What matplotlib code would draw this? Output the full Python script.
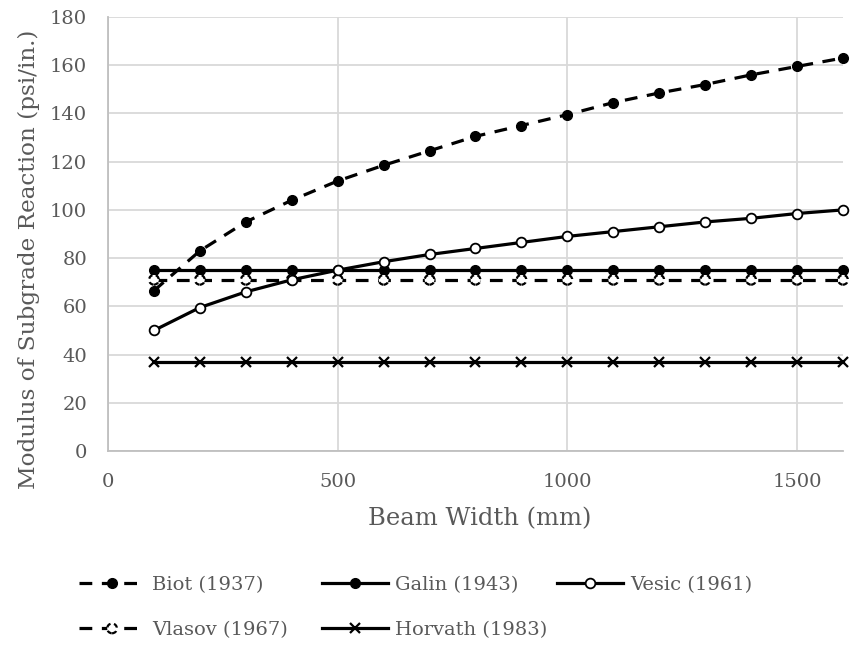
import matplotlib
matplotlib.use("Agg")
import matplotlib.pyplot as plt

widths = [100, 200, 300, 400, 500, 600, 700, 800, 900, 1000, 1100, 1200, 1300, 1400, 1500, 1600]
biot = [66.5, 83, 95, 104, 112, 118.5, 124.5, 130.5, 135, 139.5, 144.5, 148.5, 152, 156, 159.5, 163]
galin = [75] * 16
vesic = [50, 59.5, 66, 71, 75, 78.5, 81.5, 84, 86.5, 89, 91, 93, 95, 96.5, 98.5, 100]
vlasov = [71] * 16
horvath = [37] * 16

labels = ["Biot (1937)", "Galin (1943)", "Vesic (1961)", "Vlasov (1967)", "Horvath (1983)"]
xticks = [0, 500, 1000, 1500]
yticks = [0, 20, 40, 60, 80, 100, 120, 140, 160, 180]

TXT = "#595959"
plt.rcParams['font.family'] = ['DejaVu Serif']

W, H = 852, 646
fig = plt.figure(figsize=(W / 100, H / 100), dpi=100)
ax = fig.add_axes([108 / W, 1 - 451 / H, (843 - 108) / W, (451 - 17) / H])

lw = 2.3
ms = 7
h_biot, = ax.plot(widths, biot, color='black', lw=lw, dashes=(4, 3), marker='o', ms=ms,
                  mfc='black', mec='black', zorder=3, clip_on=False)
h_galin, = ax.plot(widths, galin, color='black', lw=lw, marker='o', ms=ms,
                   mfc='black', mec='black', zorder=3, clip_on=False)
h_vl_line, = ax.plot(widths, vlasov, color='black', lw=lw, dashes=(4, 3), zorder=3, clip_on=False)
h_vl_pts = ax.scatter(widths, vlasov, s=ms ** 2, facecolors='white', edgecolors='black',
                      linewidths=1.6, linestyles=(0, (2.2, 1.6)), zorder=3.5, clip_on=False)
h_vesic, = ax.plot(widths, vesic, color='black', lw=lw, marker='o', ms=ms,
                   mfc='white', mec='black', mew=1.3, zorder=4, clip_on=False)
h_horv, = ax.plot(widths, horvath, color='black', lw=lw, marker='x', ms=7, mew=1.6,
                  mec='black', zorder=3, clip_on=False)

ax.set_xlim(0, 1600)
ax.set_ylim(0, 180)
ax.set_xticks(xticks)
ax.set_yticks(yticks)
ax.grid(True, color='#d9d9d9', lw=1.3)
ax.set_axisbelow(True)
for s in ['top', 'right']:
    ax.spines[s].set_visible(False)
ax.spines['left'].set_color('#bfbfbf')
ax.spines['bottom'].set_color('#bfbfbf')
ax.spines['left'].set_linewidth(1.3)
ax.spines['bottom'].set_linewidth(1.3)
ax.tick_params(length=0, labelsize=14, colors=TXT)
ax.tick_params(axis='y', pad=15)
ax.tick_params(axis='x', pad=16)
ax.set_xlabel("Beam Width (mm)", fontsize=17.5, color=TXT)
ax.set_ylabel("Modulus of Subgrade Reaction (psi/in.)", fontsize=16.7, color=TXT)
ax.yaxis.set_label_coords(40 / W, 1 - 259 / H, transform=fig.transFigure)
ax.xaxis.set_label_coords(480 / W, 1 - 507 / H, transform=fig.transFigure)

common = dict(frameon=False, fontsize=14, labelcolor=TXT, handlelength=3.4,
              handletextpad=0.35, labelspacing=1.4, borderpad=0, borderaxespad=0,
              loc='upper left', scatteryoffsets=[0.5], scatterpoints=1)
top = 1 - 576 / H
fig.legend([h_biot, (h_vl_line, h_vl_pts)], [labels[0], labels[3]],
           bbox_to_anchor=(79 / W, top), **common)
fig.legend([h_galin, h_horv], [labels[1], labels[4]], bbox_to_anchor=(322 / W, top), **common)
fig.legend([h_vesic], [labels[2]], bbox_to_anchor=(557 / W, top), **common)

fig.savefig("out.png", dpi=100)
